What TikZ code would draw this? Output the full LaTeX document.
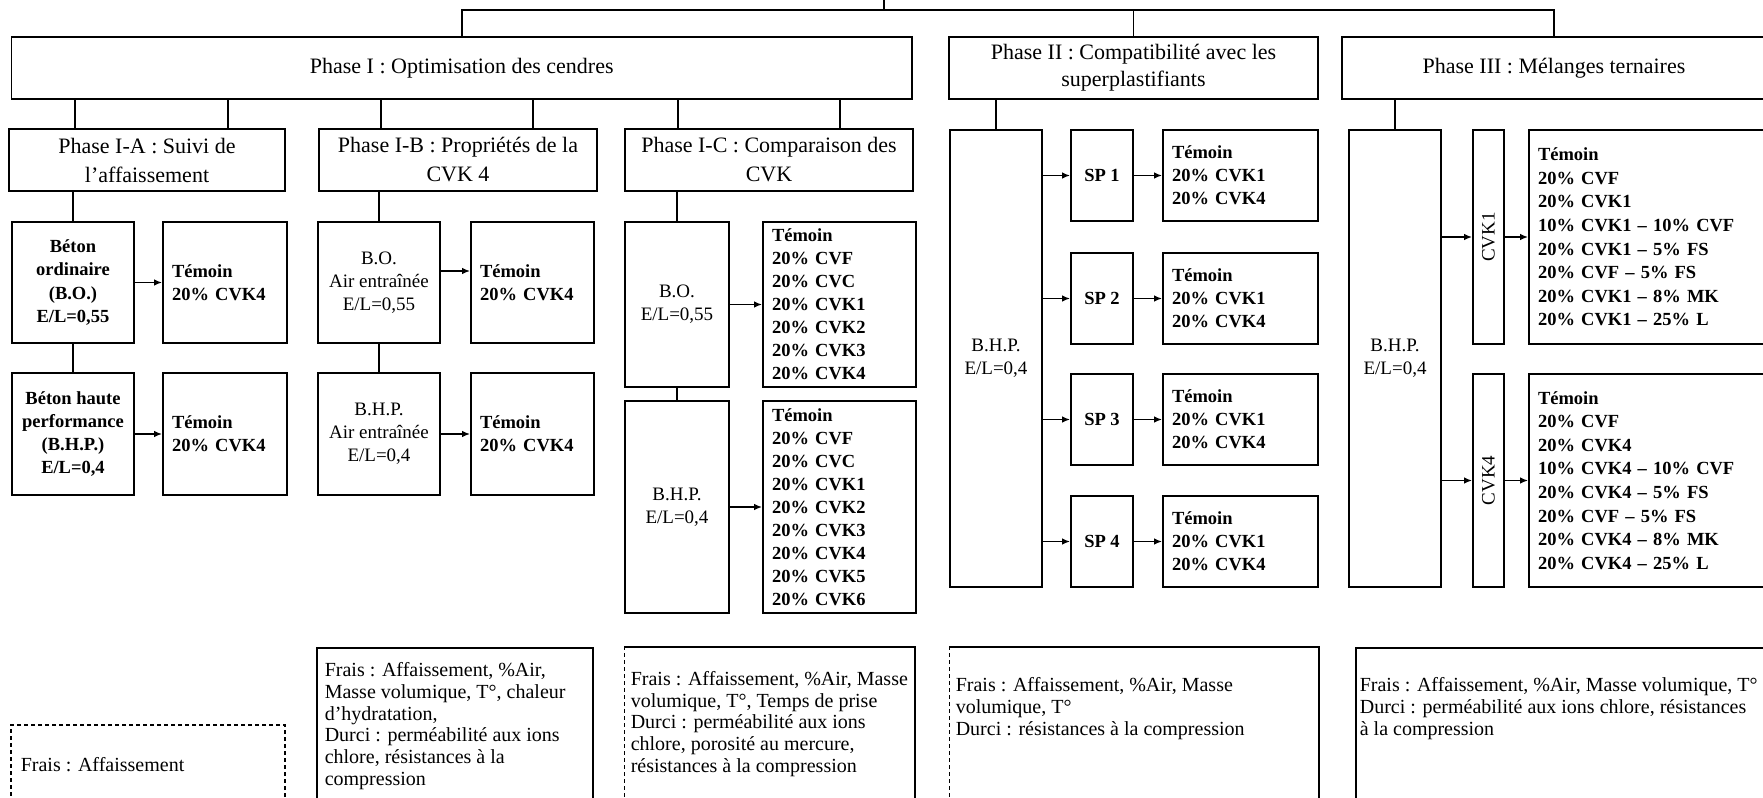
\documentclass[tikz,border=0pt]{standalone}
\usepackage{fontspec}
\setmainfont{Liberation Serif}
\usepackage{graphicx}
\usetikzlibrary{arrows.meta}
\begin{document}
\begin{tikzpicture}[x=0.5pt,y=-0.5pt, line width=0.8pt,
  bx/.style={draw, rectangle, inner sep=0pt, align=center, font=\fontsize{9.5}{11.5}\selectfont},
  ttl/.style={bx, font=\fontsize{11}{14.5}\selectfont},
  bb/.style={bx, font=\bfseries\fontsize{9.25}{11.65}\selectfont},
  spb/.style={draw, rectangle, inner sep=0pt, font=\bfseries\fontsize{9.25}{11.5}\selectfont},
  lst/.style={draw, rectangle, inner xsep=4.5pt, inner ysep=0pt, align=left, text width=#1, font=\bfseries\fontsize{9.25}{11.5}\selectfont},
  note/.style={inner sep=0pt, align=left, anchor=west, font=\fontsize{10}{10.9}\selectfont},
  frame/.style={rectangle, inner sep=0pt},
  arr/.style={-{Latex[length=4pt,width=3.2pt]}},
  sz/.style 2 args={minimum width=#1, minimum height=#2},
]
\useasboundingbox (0,0) rectangle (1763,798);
\clip (0,0) rectangle (1763,798);

% ---- level 1
\node[ttl, sz={450.25pt}{31pt}] (P1) at (461.75,68) {Phase I : Optimisation des cendres};
\node[ttl, sz={184.5pt}{31pt}, font=\fontsize{11}{13.5}\selectfont] (P2) at (1133.5,68) {Phase II : Compatibilité avec les\\superplastifiants};
\node[ttl, sz={212pt}{31pt}] (P3) at (1554,68) {Phase III : Mélanges ternaires};

% ---- level 2 (phase I)
\node[ttl, sz={138.25pt}{31pt}] (PIA) at (147,160) {Phase I-A : Suivi de\\l’affaissement};
\node[ttl, sz={139pt}{31pt}] (PIB) at (458,160) {Phase I-B : Propriétés de la\\CVK 4};
\node[ttl, sz={144pt}{31pt}] (PIC) at (769,160) {Phase I-C : Comparaison des\\CVK};

% ---- phase I-A
\node[bb, sz={61pt}{60.5pt}] (BOa) at (73,282.5) {Béton\\ordinaire\\(B.O.)\\E/L=0,55};
\node[lst=53pt, sz={62pt}{60.5pt}] (Ta) at (225,282.5) {Témoin\\20\% CVK4};
\node[bb, sz={61pt}{61pt}] (BHPa) at (73,434) {Béton haute\\performance\\(B.H.P.)\\E/L=0,4};
\node[lst=53pt, sz={62pt}{61pt}] (Tb) at (225,434) {Témoin\\20\% CVK4};

% ---- phase I-B
\node[bx, sz={61pt}{60.5pt}] (BOb) at (379,282.5) {B.O.\\Air entraînée\\E/L=0,55};
\node[lst=52.5pt, sz={61.5pt}{60.5pt}] (Tc) at (532.5,282.5) {Témoin\\20\% CVK4};
\node[bx, sz={61pt}{61pt}] (BHPb) at (379,434) {B.H.P.\\Air entraînée\\E/L=0,4};
\node[lst=52.5pt, sz={61.5pt}{61pt}] (Td) at (532.5,434) {Témoin\\20\% CVK4};

% ---- phase I-C
\node[bx, sz={52pt}{82.5pt}] (BOc) at (677,304.5) {B.O.\\E/L=0,55};
\node[lst=67.5pt, sz={76.5pt}{82.5pt}] (Lc1) at (839.5,304.5) {Témoin\\20\% CVF\\20\% CVC\\20\% CVK1\\20\% CVK2\\20\% CVK3\\20\% CVK4};
\node[bx, sz={52pt}{106pt}] (BHPc) at (677,507) {B.H.P.\\E/L=0,4};
\node[lst=67.5pt, sz={76.5pt}{106pt}] (Lc2) at (839.5,507) {Témoin\\20\% CVF\\20\% CVC\\20\% CVK1\\20\% CVK2\\20\% CVK3\\20\% CVK4\\20\% CVK5\\20\% CVK6};

% ---- phase II
\node[bx, sz={46pt}{228.5pt}] (BHPd) at (996,358.5) {B.H.P.\\E/L=0,4};
\node[spb, sz={31pt}{45.5pt}] (SP1) at (1102,175.5) {SP 1};
\node[spb, sz={31pt}{45.5pt}] (SP2) at (1102,298.5) {SP 2};
\node[spb, sz={31pt}{45.5pt}] (SP3) at (1102,419.5) {SP 3};
\node[spb, sz={31pt}{45.5pt}] (SP4) at (1102,541.5) {SP 4};
\node[lst=68.5pt, sz={77.5pt}{45.5pt}] (L1) at (1240.5,175.5) {Témoin\\20\% CVK1\\20\% CVK4};
\node[lst=68.5pt, sz={77.5pt}{45.5pt}] (L2) at (1240.5,298.5) {Témoin\\20\% CVK1\\20\% CVK4};
\node[lst=68.5pt, sz={77.5pt}{45.5pt}] (L3) at (1240.5,419.5) {Témoin\\20\% CVK1\\20\% CVK4};
\node[lst=68.5pt, sz={77.5pt}{45.5pt}] (L4) at (1240.5,541.5) {Témoin\\20\% CVK1\\20\% CVK4};

% ---- phase III
\node[bx, sz={46pt}{228.5pt}] (BHPe) at (1395,358.5) {B.H.P.\\E/L=0,4};
\node[bx, sz={15.5pt}{107pt}] (CVK1) at (1488.5,237) {\rotatebox{90}{CVK1}};
\node[bx, sz={15.5pt}{106.5pt}] (CVK4) at (1488.5,480.5) {\rotatebox{90}{CVK4}};
\node[lst=111.5pt, sz={120.5pt}{107pt}, font=\bfseries\fontsize{9.25}{11.8}\selectfont] (LE1) at (1649.5,237) {Témoin\\20\% CVF\\20\% CVK1\\10\% CVK1 – 10\% CVF\\20\% CVK1 – 5\% FS\\20\% CVF – 5\% FS\\20\% CVK1 – 8\% MK\\20\% CVK1 – 25\% L};
\node[lst=111.5pt, sz={120.5pt}{106.5pt}, font=\bfseries\fontsize{9.25}{11.8}\selectfont] (LE2) at (1649.5,480.5) {Témoin\\20\% CVF\\20\% CVK4\\10\% CVK4 – 10\% CVF\\20\% CVK4 – 5\% FS\\20\% CVF – 5\% FS\\20\% CVK4 – 8\% MK\\20\% CVK4 – 25\% L};

% ---- bottom boxes
\node[frame, draw, dash pattern=on 2pt off 1.5pt, line width=0.6pt, sz={137pt}{42.5pt}] (BA) at (148,767.5) {};
\node[frame, draw, sz={138pt}{81pt}] (BB) at (455,729) {};
\node[frame, sz={144.5pt}{81pt}] (BC) at (769.5,729) {};
\node[frame, sz={184pt}{81pt}] (BD) at (1134,729) {};
\node[frame, draw, sz={207pt}{81pt}] (BE) at (1563,729) {};
\draw[dash pattern=on 2pt off 1.5pt, line width=0.6pt] (BC.south west) -- (BC.north west);
\draw (BC.north west) -- (BC.north east) -- (BC.south east);
\draw[dash pattern=on 2pt off 1.5pt, line width=0.6pt] (BD.south west) -- (BD.north west);
\draw (BD.north west) -- (BD.north east) -- (BD.south east);

\node[note] (tA) at (20,765) {Frais : Affaissement};
\node[note] (tB) at (324,726) {Frais : Affaissement, \%Air,\\Masse volumique, T°, chaleur\\d’hydratation,\\Durci : perméabilité aux ions\\chlore, résistances à la\\compression};
\node[note] (tC) at (630,724) {Frais : Affaissement, \%Air, Masse\\volumique, T°, Temps de prise\\Durci : perméabilité aux ions\\chlore, porosité au mercure,\\résistances à la compression};
\node[note] (tD) at (955,708.5) {Frais : Affaissement, \%Air, Masse\\volumique, T°\\Durci : résistances à la compression};
\node[note] (tE) at (1359,708.5) {Frais : Affaissement, \%Air, Masse volumique, T°\\Durci : perméabilité aux ions chlore, résistances\\à la compression};

% ---- connectors: top
\coordinate (root) at (884,-10);
\coordinate (J) at (884,10);
\draw (root) -- (J);
\draw (P1.north) |- (J) -| (P3.north);
\draw (P2.north) -- (P2.north |- J);

% ---- phase I to sub-phases
\coordinate (xa1) at (75,0);  \coordinate (xa2) at (228,0);
\coordinate (xb1) at (381,0); \coordinate (xb2) at (533,0);
\coordinate (xc1) at (678,0); \coordinate (xc2) at (840,0);
\foreach \c/\n in {xa1/PIA, xa2/PIA, xb1/PIB, xb2/PIB, xc1/PIC, xc2/PIC}
  \draw (P1.south -| \c) -- (\n.north -| \c);

% ---- down connectors
\draw (PIA.south -| BOa.north) -- (BOa.north);
\draw (BOa) -- (BHPa);
\draw (PIB.south -| BOb.north) -- (BOb.north);
\draw (BOb) -- (BHPb);
\draw (PIC.south -| BOc.north) -- (BOc.north);
\draw (BOc) -- (BHPc);
\draw (P2.south -| BHPd.north) -- (BHPd.north);
\draw (P3.south -| BHPe.north) -- (BHPe.north);

% ---- arrows
\draw[arr] (BOa) -- (Ta);
\draw[arr] (BHPa) -- (Tb);
\coordinate (yb) at (0,271);
\draw[arr] (BOb.east |- yb) -- (Tc.west |- yb);
\draw[arr] (BHPb) -- (Td);
\draw[arr] (BOc) -- (Lc1);
\draw[arr] (BHPc) -- (Lc2);
\foreach \s/\l in {SP1/L1, SP2/L2, SP3/L3, SP4/L4}{
  \draw[arr] (BHPd.east |- \s.west) -- (\s.west);
  \draw[arr] (\s) -- (\l);
}
\draw[arr] (BHPe.east |- CVK1.west) -- (CVK1.west);
\draw[arr] (CVK1) -- (LE1);
\draw[arr] (BHPe.east |- CVK4.west) -- (CVK4.west);
\draw[arr] (CVK4) -- (LE2);
\end{tikzpicture}
\end{document}
